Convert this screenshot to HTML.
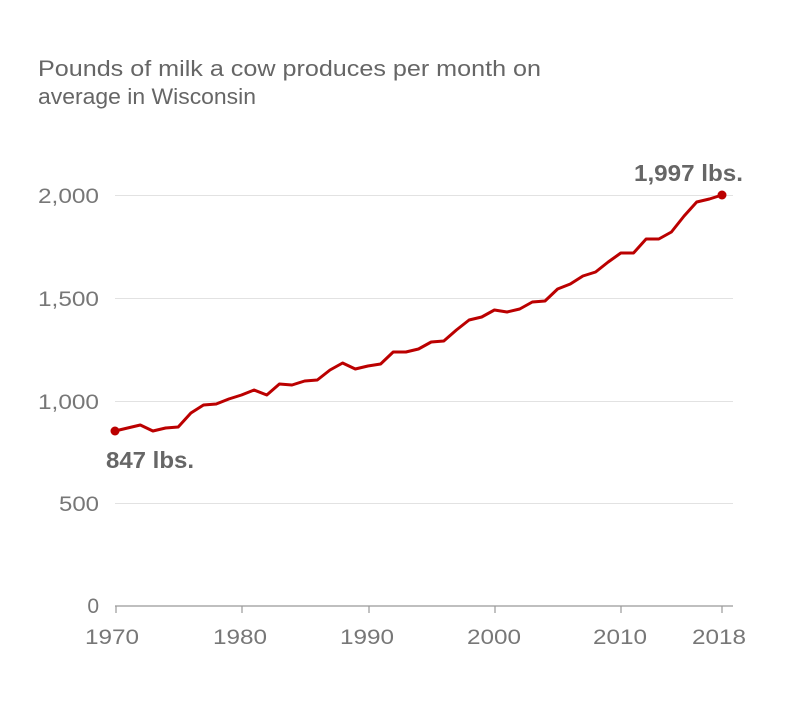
<!DOCTYPE html>
<html><head><style>
html,body{margin:0;padding:0;background:#fff;}
svg{display:block;font-family:"Liberation Sans",sans-serif;}
</style></head><body>
<svg width="800" height="704" viewBox="0 0 800 704">
<text x="38" y="76" font-size="22" fill="#666" textLength="503" lengthAdjust="spacingAndGlyphs">Pounds of milk a cow produces per month on</text>
<text x="38" y="104" font-size="22" fill="#666" textLength="218" lengthAdjust="spacingAndGlyphs">average in Wisconsin</text>
<g stroke="#e2e2e2" stroke-width="1">
<line x1="115" y1="195.5" x2="733" y2="195.5"/>
<line x1="115" y1="298.5" x2="733" y2="298.5"/>
<line x1="115" y1="401.5" x2="733" y2="401.5"/>
<line x1="115" y1="503.5" x2="733" y2="503.5"/>
</g>
<line x1="115" y1="606" x2="733" y2="606" stroke="#999" stroke-width="1.2"/>
<g stroke="#999" stroke-width="1.2">
<line x1="116" y1="606" x2="116" y2="613"/>
<line x1="242" y1="606" x2="242" y2="613"/>
<line x1="369" y1="606" x2="369" y2="613"/>
<line x1="495" y1="606" x2="495" y2="613"/>
<line x1="621" y1="606" x2="621" y2="613"/>
<line x1="722" y1="606" x2="722" y2="613"/>
</g>
<g font-size="21" fill="#777" text-anchor="end">
<text x="99" y="203" textLength="61" lengthAdjust="spacingAndGlyphs">2,000</text>
<text x="99" y="306" textLength="61" lengthAdjust="spacingAndGlyphs">1,500</text>
<text x="99" y="409" textLength="61" lengthAdjust="spacingAndGlyphs">1,000</text>
<text x="99" y="511" textLength="40" lengthAdjust="spacingAndGlyphs">500</text>
<text x="99" y="613">0</text>
</g>
<g font-size="21" fill="#777" text-anchor="middle">
<text x="112" y="644" textLength="54" lengthAdjust="spacingAndGlyphs">1970</text>
<text x="240" y="644" textLength="54" lengthAdjust="spacingAndGlyphs">1980</text>
<text x="367" y="644" textLength="54" lengthAdjust="spacingAndGlyphs">1990</text>
<text x="494" y="644" textLength="54" lengthAdjust="spacingAndGlyphs">2000</text>
<text x="620" y="644" textLength="54" lengthAdjust="spacingAndGlyphs">2010</text>
<text x="719" y="644" textLength="54" lengthAdjust="spacingAndGlyphs">2018</text>
</g>
<polyline fill="none" stroke="#bb0000" stroke-width="3" stroke-linejoin="round" points="115,431 127.6,428 140.3,425 152.9,431 165.6,428 178.2,427 190.9,413 203.5,405 216.2,404 228.8,399 241.5,395 254.1,390 266.8,395 279.4,384 292.0,385 304.7,381 317.3,380 330.0,370 342.6,363 355.3,369 367.9,366 380.6,364 393.2,352 405.9,352 418.5,349 431.2,342 443.8,341 456.4,330 469.1,320 481.7,317 494.4,310 507.0,312 519.7,309 532.3,302 545.0,301 557.6,289 570.3,284 582.9,276 595.6,272 608.2,262 620.8,253 633.5,253 646.1,239 658.8,239 671.4,232 684.1,216 696.7,202 709.4,199 722,195"/>
<circle cx="115" cy="431" r="4.5" fill="#bb0000"/>
<circle cx="722" cy="195" r="4.5" fill="#bb0000"/>
<text x="106" y="468" font-size="23" font-weight="bold" fill="#666" textLength="88" lengthAdjust="spacingAndGlyphs">847 lbs.</text>
<text x="743" y="181" font-size="23" font-weight="bold" fill="#666" text-anchor="end" textLength="109" lengthAdjust="spacingAndGlyphs">1,997 lbs.</text>
</svg>
</body></html>
